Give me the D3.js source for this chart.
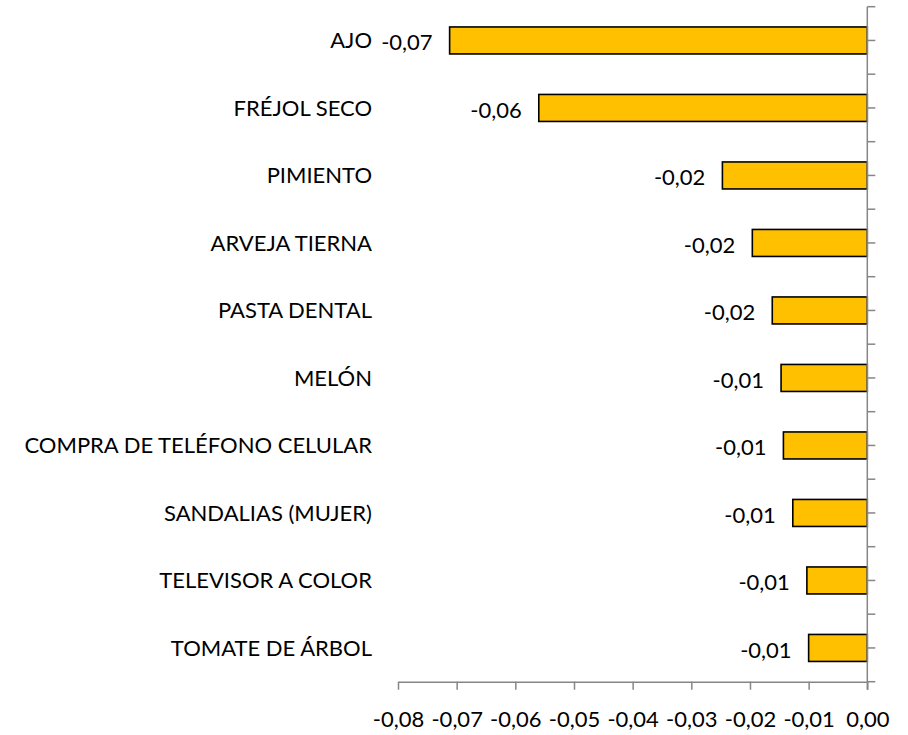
<!DOCTYPE html>
<html>
<head>
<meta charset="utf-8">
<script src="https://cdnjs.cloudflare.com/ajax/libs/d3/7.8.5/d3.min.js"></script>
<style>
  body { margin: 0; background: #fff; }
  text { font-family: Lato, "Open Sans", sans-serif; fill: #000; }
</style>
</head>
<body>
<svg id="chart" width="908" height="735"></svg>
<script>
var categories = ["AJO", "FRÉJOL SECO", "PIMIENTO", "ARVEJA TIERNA", "PASTA DENTAL",
  "MELÓN", "COMPRA DE TELÉFONO CELULAR", "SANDALIAS (MUJER)", "TELEVISOR A COLOR", "TOMATE DE ÁRBOL"]
var values = [-0.0712, -0.0560, -0.0247, -0.0196, -0.0162, -0.0147, -0.0143, -0.0127, -0.0103, -0.0100]
var xTicks = [-0.08, -0.07, -0.06, -0.05, -0.04, -0.03, -0.02, -0.01, 0]

var fmt = function(v){ return d3.format(".2f")(v).replace(".", ",").replace("−", "-") }

var svg = d3.select("#chart")
var plotLeft = 398, plotRight = 867.3, plotTop = 6.7, plotBottom = 681.7
var fontSize = 22

var x = d3.scaleLinear().domain([-0.08, 0]).range([plotLeft, plotRight])
var y = d3.scaleBand().domain(categories).range([plotTop, plotBottom]).paddingInner(0.6).paddingOuter(0.3)
var step = y.step()

// bars
svg.selectAll("rect.bar")
  .data(values)
  .enter()
  .append("rect")
  .attr("class", "bar")
  .attr("x", function(d){ return x(d) })
  .attr("y", function(d, i){ return y(categories[i]) })
  .attr("width", function(d){ return x(0) - x(d) })
  .attr("height", y.bandwidth())
  .style("fill", "#FFC000")
  .style("stroke", "#000")
  .style("stroke-width", 1.6)

// data labels
svg.selectAll("text.val")
  .data(values)
  .enter()
  .append("text")
  .attr("class", "val")
  .attr("x", function(d){ return x(d) - 17 })
  .attr("y", function(d, i){ return y(categories[i]) + y.bandwidth()/2 + 2 })
  .attr("dy", "0.35em")
  .attr("text-anchor", "end")
  .style("font-size", fontSize + "px")
  .text(function(d){ return fmt(d) })

// category labels
svg.selectAll("text.cat")
  .data(categories)
  .enter()
  .append("text")
  .attr("class", "cat")
  .attr("x", 372)
  .attr("y", function(d){ return y(d) + y.bandwidth()/2 })
  .attr("dy", "0.35em")
  .attr("text-anchor", "end")
  .style("font-size", fontSize + "px")
  .text(function(d){ return d })

// vertical axis at zero, ticks every half category
var axisColor = "#868686"
var vticks = d3.range(categories.length * 2 + 1).map(function(i){ return plotTop + i * step / 2 })
svg.append("line")
  .attr("x1", x(0)).attr("x2", x(0))
  .attr("y1", plotTop).attr("y2", plotBottom + 8)
  .style("stroke", axisColor).style("stroke-width", 1.5)
svg.selectAll("line.vt")
  .data(vticks)
  .enter()
  .append("line")
  .attr("class", "vt")
  .attr("x1", x(0)).attr("x2", x(0) + 8)
  .attr("y1", function(d){ return d }).attr("y2", function(d){ return d })
  .style("stroke", axisColor).style("stroke-width", 1.5)

// horizontal axis
var xAxis = svg.append("g")
  .attr("transform", "translate(0," + plotBottom + ")")
  .call(d3.axisBottom(x).tickValues(xTicks).tickSize(8).tickSizeOuter(0).tickFormat(fmt).tickPadding(22))
xAxis.select(".domain").style("stroke", axisColor).style("stroke-width", 1.5)
xAxis.selectAll(".tick line").style("stroke", axisColor).style("stroke-width", 1.5)
xAxis.selectAll(".tick text").style("font-size", fontSize + "px").style("font-family", "Lato, sans-serif").style("fill", "#000")
</script>
</body>
</html>
